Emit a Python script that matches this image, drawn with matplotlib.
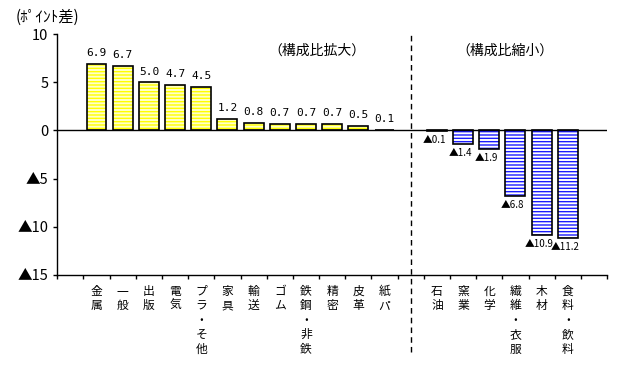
import numpy as np
import matplotlib
matplotlib.use("Agg")
import matplotlib.pyplot as plt

plt.rcParams['font.family'] = ['Noto Sans CJK JP', 'DejaVu Sans']
plt.rcParams['hatch.linewidth'] = 1.0

# 構成比拡大
up_names = ['金属', '一般', '出版', '電気', 'プラ・そ他', '家具', '輸送', 'ゴム',
            '鉄鋼・非鉄', '精密', '皮革', '紙パ']
up_vals = [6.9, 6.7, 5.0, 4.7, 4.5, 1.2, 0.8, 0.7, 0.7, 0.7, 0.5, 0.1]
# 構成比縮小
down_names = ['石油', '窯業', '化学', '繊維・衣服', '木材', '食料・飲料']
down_vals = [-0.1, -1.4, -1.9, -6.8, -10.9, -11.2]

y_ticks = [10, 5, 0, -5, -10, -15]
y_labels = ['10', '5', '0', '▲5', '▲10', '▲15']


def fmt_label(v):
    if v < 0:
        return '▲' + f'{-v:.1f}'
    return f'{v:.1f}'


fig = plt.figure(figsize=(6.4, 3.84), dpi=100)
ax = fig.add_axes([0.0895, 0.284, 0.859, 0.627])

x_up = np.arange(1, len(up_vals) + 1)
x_gap = len(up_vals) + 1
x_down = np.arange(x_gap + 1, x_gap + 1 + len(down_vals))
w = 0.76

# hatched fill, then black outline
ax.bar(x_up, up_vals, w, color='#ffffc8', edgecolor='#ffff00', hatch='-----', linewidth=0)
ax.bar(x_up, up_vals, w, color='none', edgecolor='black', linewidth=1.2)
ax.bar(x_down, down_vals, w, color='white', edgecolor='#1a1aff', hatch='-----', linewidth=0)
ax.bar(x_down, down_vals, w, color='none', edgecolor='black', linewidth=1.2)

for x, v in zip(x_up, up_vals):
    ax.text(x, v + 0.6, fmt_label(v), ha='center', va='bottom', fontsize=8,
            family=['DejaVu Sans Mono'])
for x, v in zip(x_down, down_vals):
    ax.text(x - 0.1, v - 0.4, fmt_label(v), ha='center', va='top', fontsize=7,
            family=['Noto Sans CJK JP'])

ax.axhline(0, color='black', linewidth=1)
ax.axvline(x_gap, ymin=-0.32, ymax=1, color='black', linestyle=(0, (4, 3)),
           linewidth=1, clip_on=False)

ax.set_xlim(-0.5, x_gap + len(down_vals) + 1.5)
ax.set_ylim(-15, 10)
ax.set_yticks(y_ticks)
ax.set_yticklabels(y_labels, family=['Noto Sans CJK JP'], fontsize=10.5)
ax.set_xticks(np.arange(-0.5, x_gap + len(down_vals) + 2, 1.0))
ax.set_xticklabels([])
ax.tick_params(axis='both', direction='out', length=3, width=1)

for s in ['top', 'right']:
    ax.spines[s].set_visible(False)
ax.spines['left'].set_linewidth(1)
ax.spines['bottom'].set_linewidth(1)

# vertical category names below the axis
for x, name in zip(list(x_up) + list(x_down), up_names + down_names):
    ax.text(x, -0.04, '\n'.join(name), transform=ax.get_xaxis_transform(),
            ha='center', va='top', fontsize=8.5, linespacing=1.15)

ax.text(9.4, 8.3, '（構成比拡大）', ha='center', va='center', fontsize=10)
ax.text(16.6, 8.3, '（構成比縮小）', ha='center', va='center', fontsize=10)
fig.text(0.024, 0.955, '(ﾎﾟｲﾝﾄ差)', ha='left', va='center', fontsize=11)

fig.savefig('out.png', dpi=100)
